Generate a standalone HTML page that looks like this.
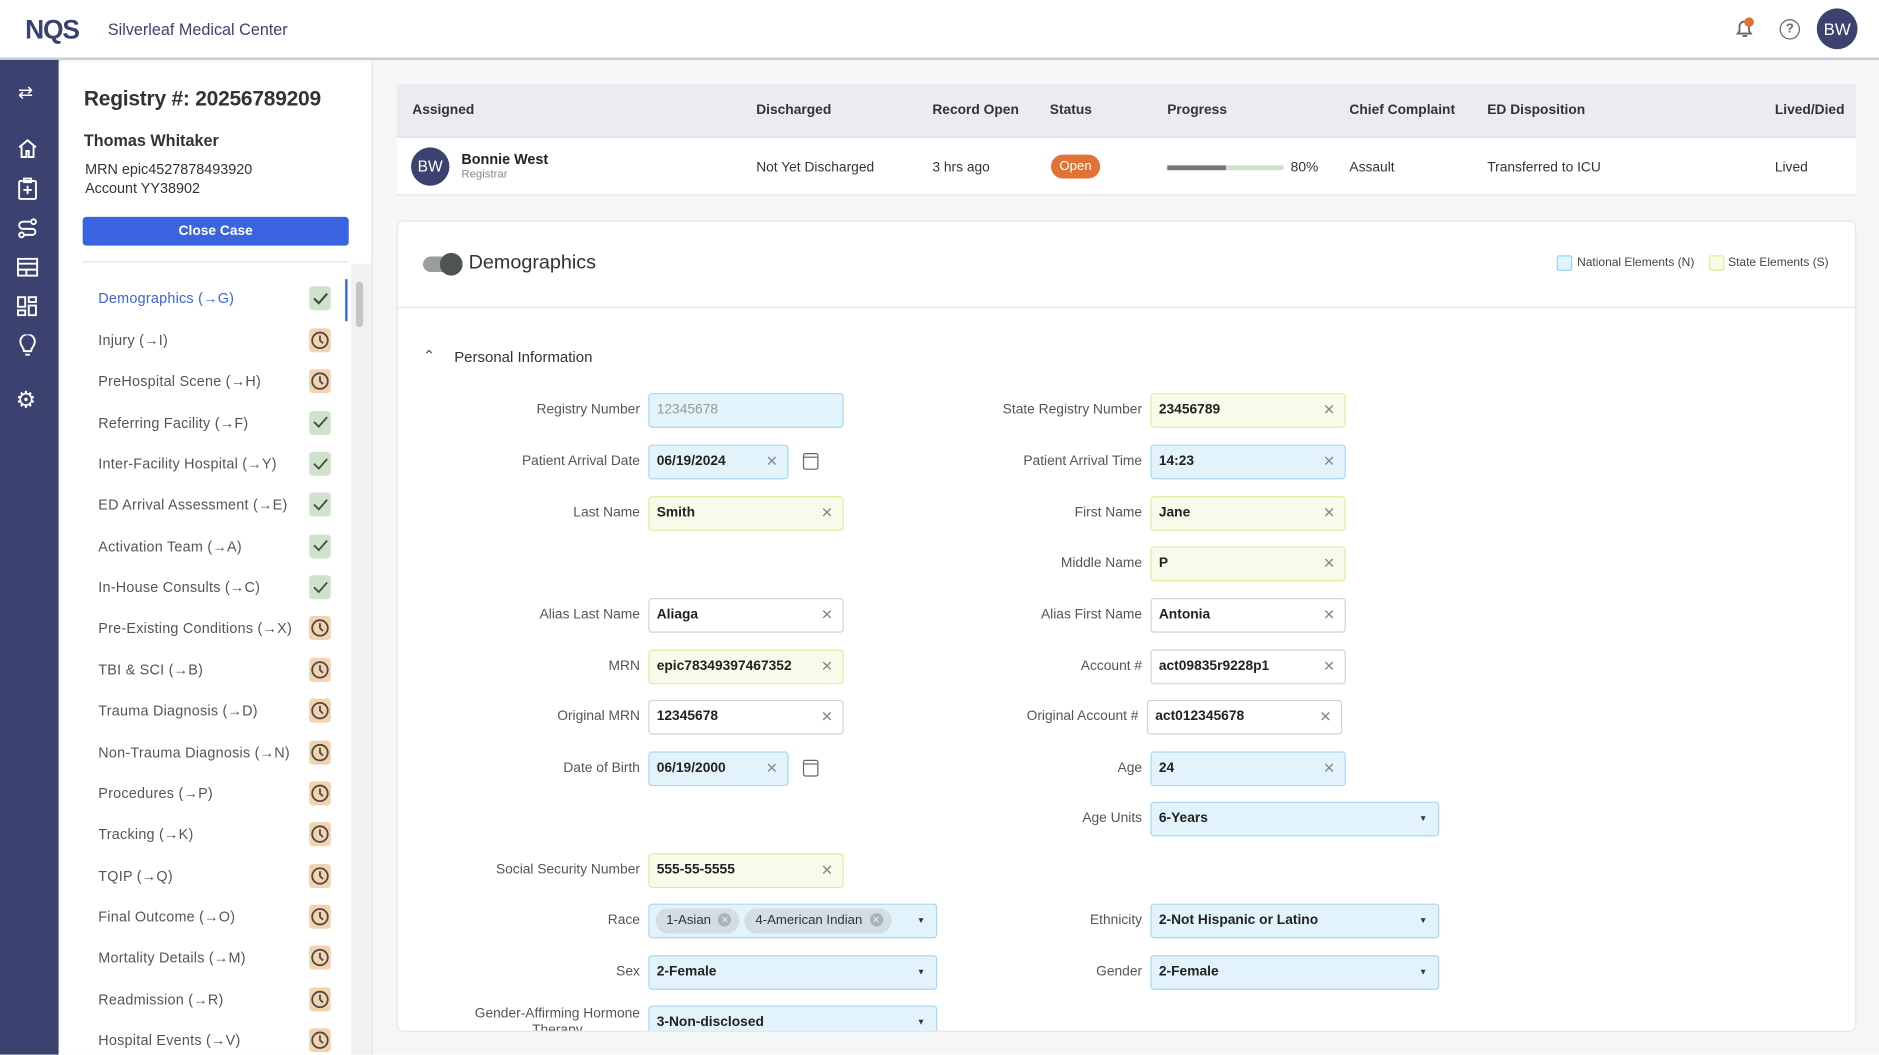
<!DOCTYPE html>
<html><head><meta charset="utf-8"><style>
*{box-sizing:border-box;margin:0;padding:0}
html,body{width:1879px;height:1055px;overflow:hidden;background:#fff;font-family:"Liberation Sans",Arial,sans-serif}
#w{position:absolute;left:0;top:0;width:1568px;height:880px;transform:scale(1.1984);transform-origin:0 0;background:#f5f6f8}
.a{position:absolute}
.t{position:absolute;white-space:nowrap}
.lbl{position:absolute;white-space:nowrap;font-size:11.5px;color:#555;text-align:right;transform:translateY(-50%)}
.in{position:absolute;height:29px;border-radius:3px;font-size:11.5px;color:#222;padding-left:6px;line-height:27px;font-weight:bold}
.bl{background:#e3f3fc;border:1px solid #a9d7f3}
.yl{background:#f9fbea;border:1px solid #e6ea9e}
.wh{background:#fff;border:1px solid #cfd2d6}
.x{position:absolute;right:8px;top:0;color:#888;font-weight:normal;font-size:12px}
.dd{position:absolute;right:9px;top:0;font-size:7px;color:#333}
.nav{position:absolute;left:82px;font-size:12px;color:#555;letter-spacing:.2px;transform:translateY(-50%)}
.ic{position:absolute;left:258px;width:18px;height:20px;border-radius:3px;transform:translateY(-50%)}
.ck{background:#cfe2cc}
.cl{background:#f3d2ae}
.th{position:absolute;top:92px;font-size:11.5px;font-weight:bold;color:#333;transform:translateY(-50%)}
.td{position:absolute;top:140px;font-size:11.5px;color:#333;transform:translateY(-50%)}
.cal{position:absolute;width:13px;height:14px;border:1.5px solid #666;border-radius:2px}
.cal:before{content:"";position:absolute;left:0;right:0;top:2px;border-top:1.5px solid #666}
.chip{display:inline-block;background:#d3dde4;border-radius:12px;height:21px;line-height:21px;padding:0 7px 0 9px;margin-top:3px;margin-right:4px;font-weight:normal;font-size:11px;color:#333}
.chip i{display:inline-block;width:11px;height:11px;border-radius:50%;background:#a8b2ba;color:#e8eef2;font-size:8px;line-height:11px;text-align:center;font-style:normal;margin-left:6px;vertical-align:middle;margin-top:-2px}
</style></head><body><div id="w">
<div class="a" style="left:0;top:0;width:1568px;height:50px;background:#fff;border-bottom:2px solid #c9cbd0"></div>
<div class="t" style="left:21px;top:12px;font-size:22px;font-weight:bold;color:#3b4270;letter-spacing:-1px">NQS</div>
<div class="t" style="left:90px;top:17px;font-size:13.5px;color:#3b4270">Silverleaf Medical Center</div>
<svg class="a" style="left:1446px;top:14px" width="20" height="20" viewBox="0 0 20 20"><path d="M4 14h11l-1.5-2V8a4 4 0 0 0-8 0v4z" fill="none" stroke="#666" stroke-width="1.5"/><path d="M8 16h4" stroke="#666" stroke-width="1.5"/><circle cx="13.5" cy="4.5" r="4" fill="#e07235"/></svg>
<div class="a" style="left:1485px;top:16px;width:17px;height:17px;border:1.5px solid #666;border-radius:50%;font-size:11px;color:#666;text-align:center;line-height:14px;font-weight:bold">?</div>
<div class="a" style="left:1516px;top:7px;width:34px;height:34px;border-radius:50%;background:#3b4270;color:#fff;font-size:14px;text-align:center;line-height:34px">BW</div>
<div class="a" style="left:0;top:50px;width:49px;height:830px;background:#3b4270"></div>
<div class="t" style="left:15px;top:68px;color:#fff;font-size:15px">⇄</div>
<svg class="a" style="left:14px;top:115px" width="18" height="18" viewBox="0 0 18 18" fill="none" stroke="#fff" stroke-width="1.6"><path d="M2 8l7-6 7 6M4 7v9h4v-5h2v5h4V7"/></svg>
<svg class="a" style="left:15px;top:148px" width="16" height="19" viewBox="0 0 16 19" fill="none" stroke="#fff" stroke-width="1.6"><rect x="1" y="3" width="14" height="15" rx="1"/><path d="M5 1h6v3H5zM8 7v7M4.5 10.5h7"/></svg>
<svg class="a" style="left:14px;top:182px" width="18" height="17" viewBox="0 0 18 17" fill="none" stroke="#fff" stroke-width="1.6"><circle cx="14" cy="3" r="2"/><circle cx="4" cy="14" r="2"/><path d="M12 3H5a3 3 0 0 0 0 6h8a2.5 2.5 0 0 1 0 5H6"/></svg>
<svg class="a" style="left:14px;top:215px" width="18" height="16" viewBox="0 0 18 16" fill="none" stroke="#fff" stroke-width="1.6"><rect x="1" y="1" width="16" height="14"/><path d="M1 5h16M1 10h16M8 10v5"/></svg>
<svg class="a" style="left:14px;top:247px" width="17" height="17" viewBox="0 0 17 17" fill="none" stroke="#fff" stroke-width="1.6"><rect x="1" y="1" width="6" height="8"/><rect x="10" y="1" width="6" height="4"/><rect x="1" y="12" width="6" height="4"/><rect x="10" y="8" width="6" height="8"/></svg>
<svg class="a" style="left:16px;top:279px" width="14" height="20" viewBox="0 0 14 20" fill="none" stroke="#fff" stroke-width="1.6"><path d="M4 14c0-3-3-4-3-8a6 6 0 0 1 12 0c0 4-3 5-3 8z"/><path d="M5 17h4"/></svg>
<div class="t" style="left:13px;top:323px;color:#fff;font-size:19px">⚙</div>
<div class="a" style="left:49px;top:52px;width:262px;height:828px;background:#fff;border-right:1px solid #e2e3e6"></div>
<div class="a" style="left:293px;top:220px;width:17px;height:660px;background:#f1f1f2"></div>
<div class="a" style="left:297px;top:235px;width:6px;height:38px;background:#c4c5c8;border-radius:3px"></div>
<div class="a" style="left:288px;top:233px;width:2px;height:35px;background:#3a63e0"></div>
<div class="t" style="left:70px;top:72px;font-size:17.5px;font-weight:bold;color:#333;letter-spacing:-.2px">Registry #: 20256789209</div>
<div class="t" style="left:70px;top:110px;font-size:13.5px;font-weight:bold;color:#333">Thomas Whitaker</div>
<div class="t" style="left:71px;top:133px;font-size:12px;color:#333;line-height:16px">MRN epic4527878493920<br>Account YY38902</div>
<div class="a" style="left:69px;top:181px;width:222px;height:24px;background:#3a63e0;border-radius:3px;color:#fff;font-size:11.5px;font-weight:bold;text-align:center;line-height:24px">Close Case</div>
<div class="a" style="left:69px;top:218px;width:222px;height:1px;background:#e2e3e6"></div>
<div class="nav" style="top:249px;color:#3a63e0">Demographics (→G)</div><div class="ic ck" style="top:249px"></div>
<div class="nav" style="top:284px">Injury (→I)</div><div class="ic cl" style="top:284px"></div>
<div class="nav" style="top:318px">PreHospital Scene (→H)</div><div class="ic cl" style="top:318px"></div>
<div class="nav" style="top:353px">Referring Facility (→F)</div><div class="ic ck" style="top:353px"></div>
<div class="nav" style="top:387px">Inter-Facility Hospital (→Y)</div><div class="ic ck" style="top:387px"></div>
<div class="nav" style="top:421px">ED Arrival Assessment (→E)</div><div class="ic ck" style="top:421px"></div>
<div class="nav" style="top:456px">Activation Team (→A)</div><div class="ic ck" style="top:456px"></div>
<div class="nav" style="top:490px">In-House Consults (→C)</div><div class="ic ck" style="top:490px"></div>
<div class="nav" style="top:524px">Pre-Existing Conditions (→X)</div><div class="ic cl" style="top:524px"></div>
<div class="nav" style="top:559px">TBI &amp; SCI (→B)</div><div class="ic cl" style="top:559px"></div>
<div class="nav" style="top:593px">Trauma Diagnosis (→D)</div><div class="ic cl" style="top:593px"></div>
<div class="nav" style="top:628px">Non-Trauma Diagnosis (→N)</div><div class="ic cl" style="top:628px"></div>
<div class="nav" style="top:662px">Procedures (→P)</div><div class="ic cl" style="top:662px"></div>
<div class="nav" style="top:696px">Tracking (→K)</div><div class="ic cl" style="top:696px"></div>
<div class="nav" style="top:731px">TQIP (→Q)</div><div class="ic cl" style="top:731px"></div>
<div class="nav" style="top:765px">Final Outcome (→O)</div><div class="ic cl" style="top:765px"></div>
<div class="nav" style="top:799px">Mortality Details (→M)</div><div class="ic cl" style="top:799px"></div>
<div class="nav" style="top:834px">Readmission (→R)</div><div class="ic cl" style="top:834px"></div>
<div class="nav" style="top:868px">Hospital Events (→V)</div><div class="ic cl" style="top:868px"></div>
<svg class="a" style="left:258px;top:239px" width="18" height="640" viewBox="0 0 18 640" fill="none" stroke="#4a4a4a" stroke-width="1.5">
<path d="M4 10l4 4 7-8" stroke-width="1.8"/><path d="M4 113l4 4 7-8"/><path d="M4 148l4 4 7-8"/><path d="M4 182l4 4 7-8"/><path d="M4 216l4 4 7-8"/><path d="M4 251l4 4 7-8"/>
<g id="c"><circle cx="9" cy="45" r="6.5"/><path d="M9 41v4l2.5 2.5"/></g>
<use href="#c" y="34"/><use href="#c" y="240"/><use href="#c" y="275"/><use href="#c" y="309"/><use href="#c" y="344"/><use href="#c" y="378"/><use href="#c" y="412"/><use href="#c" y="447"/><use href="#c" y="481"/><use href="#c" y="515"/><use href="#c" y="550"/><use href="#c" y="584"/>
</svg>
<div class="a" style="left:331px;top:70px;width:1218px;height:45px;background:#ebecef;border-bottom:1px solid #dcdde0"></div>
<div class="a" style="left:331px;top:115px;width:1218px;height:48px;background:#fff;border-bottom:1px solid #e6e7ea"></div>
<div class="th" style="left:344px">Assigned</div><div class="th" style="left:631px">Discharged</div><div class="th" style="left:778px">Record Open</div><div class="th" style="left:876px">Status</div><div class="th" style="left:974px">Progress</div><div class="th" style="left:1126px">Chief Complaint</div><div class="th" style="left:1241px">ED Disposition</div><div class="th" style="left:1481px">Lived/Died</div>
<div class="a" style="left:343px;top:123px;width:32px;height:32px;border-radius:50%;background:#3b4270;color:#fff;font-size:13px;text-align:center;line-height:32px">BW</div>
<div class="t" style="left:385px;top:126px;font-size:12px;font-weight:bold;color:#222">Bonnie West</div>
<div class="t" style="left:385px;top:140px;font-size:9.5px;color:#888">Registrar</div>
<div class="td" style="left:631px">Not Yet Discharged</div><div class="td" style="left:778px">3 hrs ago</div>
<div class="a" style="left:877px;top:129px;width:41px;height:20px;border-radius:10px;background:#e07235;color:#fff;font-size:11px;text-align:center;line-height:20px">Open</div>
<div class="a" style="left:974px;top:138px;width:97px;height:4px;background:#cfe0cf"></div><div class="a" style="left:974px;top:138px;width:49px;height:4px;background:#777"></div>
<div class="td" style="left:1077px">80%</div><div class="td" style="left:1126px">Assault</div><div class="td" style="left:1241px">Transferred to ICU</div><div class="td" style="left:1481px">Lived</div>
<div class="a" style="left:331px;top:184px;width:1218px;height:677px;background:#fff;border:1px solid #e4e5e8;border-radius:6px;overflow:hidden">
<div class="a" style="left:21px;top:29px;width:30px;height:13px;border-radius:7px;background:#9a9d9a"></div>
<div class="a" style="left:35px;top:26px;width:19px;height:19px;border-radius:50%;background:#4e5550"></div>
<div class="t" style="left:59px;top:25px;font-size:16.5px;color:#333">Demographics</div>
<div class="a" style="left:967px;top:28px;width:13px;height:13px;border:1px solid #9dd0f0;background:#e3f3fc;border-radius:2px"></div>
<div class="t" style="left:984px;top:29px;font-size:10px;color:#444">National Elements (N)</div>
<div class="a" style="left:1094px;top:28px;width:13px;height:13px;border:1px solid #e6ea9e;background:#f9fbea;border-radius:2px"></div>
<div class="t" style="left:1110px;top:29px;font-size:10px;color:#444">State Elements (S)</div>
<div class="a" style="left:0;top:71px;width:1218px;height:1px;background:#e4e5e8"></div>
<div class="t" style="left:21px;top:105px;font-size:12px;color:#555">⌃</div>
<div class="t" style="left:47px;top:106px;font-size:12.5px;color:#333">Personal Information</div>
</div>
<div class="a" style="left:331px;top:184px;width:1218px;height:676px;overflow:hidden"><div class="a" style="left:-331px;top:-184px;width:1568px;height:880px">
<div class="lbl" style="right:1034px;top:342px">Registry Number</div><div class="in bl" style="left:541px;top:328px;width:163px;color:#999;font-weight:normal">12345678</div>
<div class="lbl" style="right:1034px;top:385px">Patient Arrival Date</div><div class="in bl" style="left:541px;top:371px;width:117px">06/19/2024<span class="x">✕</span></div><div class="cal" style="left:670px;top:378px"></div>
<div class="lbl" style="right:1034px;top:428px">Last Name</div><div class="in yl" style="left:541px;top:414px;width:163px">Smith<span class="x">✕</span></div>
<div class="lbl" style="right:1034px;top:513px">Alias Last Name</div><div class="in wh" style="left:541px;top:499px;width:163px">Aliaga<span class="x">✕</span></div>
<div class="lbl" style="right:1034px;top:556px">MRN</div><div class="in yl" style="left:541px;top:542px;width:163px">epic78349397467352<span class="x">✕</span></div>
<div class="lbl" style="right:1034px;top:598px">Original MRN</div><div class="in wh" style="left:541px;top:584px;width:163px">12345678<span class="x">✕</span></div>
<div class="lbl" style="right:1034px;top:641px">Date of Birth</div><div class="in bl" style="left:541px;top:627px;width:117px">06/19/2000<span class="x">✕</span></div><div class="cal" style="left:670px;top:634px"></div>
<div class="lbl" style="right:1034px;top:726px">Social Security Number</div><div class="in yl" style="left:541px;top:712px;width:163px">555-55-5555<span class="x">✕</span></div>
<div class="lbl" style="right:1034px;top:768px">Race</div><div class="in bl" style="left:541px;top:754px;width:241px;padding-left:5px;line-height:normal"><span class="chip">1-Asian<i>✕</i></span><span class="chip">4-American Indian<i>✕</i></span><span class="dd" style="line-height:27px">▼</span></div>
<div class="lbl" style="right:1034px;top:811px">Sex</div><div class="in bl" style="left:541px;top:797px;width:241px">2-Female<span class="dd">▼</span></div>
<div class="lbl" style="right:1034px;top:853px;line-height:14px;text-align:center">Gender-Affirming Hormone<br>Therapy</div><div class="in bl" style="left:541px;top:839px;width:241px">3-Non-disclosed<span class="dd">▼</span></div>
<div class="lbl" style="right:615px;top:342px">State Registry Number</div><div class="in yl" style="left:960px;top:328px;width:163px">23456789<span class="x">✕</span></div>
<div class="lbl" style="right:615px;top:385px">Patient Arrival Time</div><div class="in bl" style="left:960px;top:371px;width:163px">14:23<span class="x">✕</span></div>
<div class="lbl" style="right:615px;top:428px">First Name</div><div class="in yl" style="left:960px;top:414px;width:163px">Jane<span class="x">✕</span></div>
<div class="lbl" style="right:615px;top:470px">Middle Name</div><div class="in yl" style="left:960px;top:456px;width:163px">P<span class="x">✕</span></div>
<div class="lbl" style="right:615px;top:513px">Alias First Name</div><div class="in wh" style="left:960px;top:499px;width:163px">Antonia<span class="x">✕</span></div>
<div class="lbl" style="right:615px;top:556px">Account #</div><div class="in wh" style="left:960px;top:542px;width:163px">act09835r9228p1<span class="x">✕</span></div>
<div class="lbl" style="right:618px;top:598px">Original Account #</div><div class="in wh" style="left:957px;top:584px;width:163px">act012345678<span class="x">✕</span></div>
<div class="lbl" style="right:615px;top:641px">Age</div><div class="in bl" style="left:960px;top:627px;width:163px">24<span class="x">✕</span></div>
<div class="lbl" style="right:615px;top:683px">Age Units</div><div class="in bl" style="left:960px;top:669px;width:241px">6-Years<span class="dd">▼</span></div>
<div class="lbl" style="right:615px;top:768px">Ethnicity</div><div class="in bl" style="left:960px;top:754px;width:241px">2-Not Hispanic or Latino<span class="dd">▼</span></div>
<div class="lbl" style="right:615px;top:811px">Gender</div><div class="in bl" style="left:960px;top:797px;width:241px">2-Female<span class="dd">▼</span></div>
</div></div>
</div></body></html>
